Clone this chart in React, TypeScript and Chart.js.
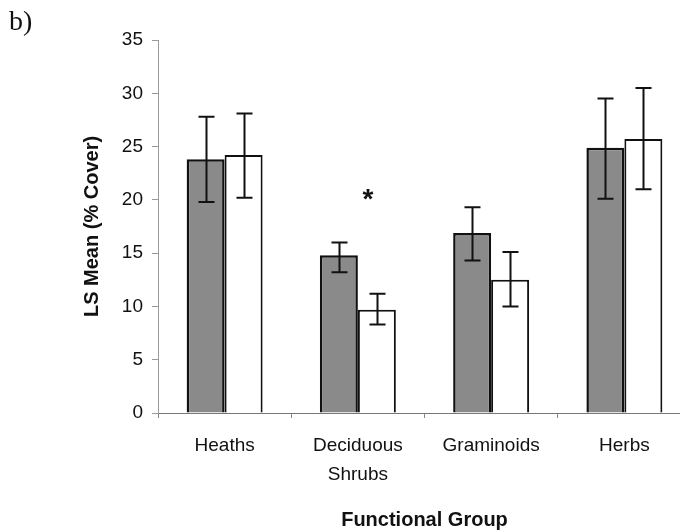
import React, { useEffect, useRef } from "react";
import { Chart, registerables } from "chart.js";

Chart.register(...registerables);

const categories: (string | string[])[] = ["Heaths", ["Deciduous", "Shrubs"], "Graminoids", "Herbs"];
const seriesNames = ["Series 1", "Series 2"];

const grayValues = [23.8, 14.8, 16.9, 24.9];
const grayLow = [19.8, 13.2, 14.3, 20.1];
const grayHigh = [27.8, 16.0, 19.3, 29.5];

const whiteValues = [24.2, 9.7, 12.5, 25.7];
const whiteLow = [20.2, 8.3, 10.0, 21.0];
const whiteHigh = [28.1, 11.2, 15.1, 30.5];

const markerLabels = ["", "*", "", ""];
const markerValue = 19.2;

const yMin = 0;
const yMax = 35;
const yStep = 5;

const panelLabel = "b)";
const yTitle = "LS Mean (% Cover)";
const xTitle = "Functional Group";

const lows = [grayLow, whiteLow];
const highs = [grayHigh, whiteHigh];

const errorBarPlugin = {
  id: "errorBars",
  afterDatasetsDraw(chart: any) {
    const { ctx } = chart;
    const yScale = chart.scales.y;
    ctx.save();
    ctx.strokeStyle = "#111";
    ctx.lineWidth = 2;
    chart.data.datasets.forEach((_ds: any, di: number) => {
      const meta = chart.getDatasetMeta(di);
      meta.data.forEach((bar: any, i: number) => {
        const x = Math.round(bar.x) + 0.5;
        const yH = yScale.getPixelForValue(highs[di][i]);
        const yL = yScale.getPixelForValue(lows[di][i]);
        const cap = 8;
        ctx.beginPath();
        ctx.moveTo(x, yH);
        ctx.lineTo(x, yL);
        ctx.moveTo(x - cap, yH);
        ctx.lineTo(x + cap, yH);
        ctx.moveTo(x - cap, yL);
        ctx.lineTo(x + cap, yL);
        ctx.stroke();
      });
    });
    // significance markers
    const xScale = chart.scales.x;
    ctx.fillStyle = "#111";
    ctx.font = "bold 28px 'Liberation Sans', Arial, sans-serif";
    ctx.textAlign = "center";
    ctx.textBaseline = "alphabetic";
    markerLabels.forEach((m, i) => {
      if (!m) return;
      ctx.fillText(m, xScale.getPixelForValue(i) + 10, yScale.getPixelForValue(markerValue));
    });
    // panel label
    ctx.textAlign = "left";
    ctx.font = "28px 'Liberation Serif', 'Times New Roman', serif";
    ctx.fillText(panelLabel, 9, 30);
    ctx.restore();
  },
};

export default function App() {
  const ref = useRef<HTMLCanvasElement>(null);
  useEffect(() => {
    if (!ref.current) return;
    const chart = new Chart(ref.current, {
      type: "bar",
      data: {
        labels: categories as any,
        datasets: [
          {
            label: seriesNames[0],
            data: grayValues,
            backgroundColor: "#8a8a8a",
            borderColor: "#111",
            borderWidth: 2.5,
            categoryPercentage: 0.57,
            barPercentage: 1.0,
          },
          {
            label: seriesNames[1],
            data: whiteValues,
            backgroundColor: "#ffffff",
            borderColor: "#111",
            borderWidth: 2,
            categoryPercentage: 0.57,
            barPercentage: 1.0,
          },
        ],
      },
      options: {
        responsive: false,
        animation: false,
        devicePixelRatio: 1,
        layout: { padding: { left: 0, top: 40, right: 9, bottom: 0 } },
        plugins: { legend: { display: false }, tooltip: { enabled: false } },
        scales: {
          x: {
            grid: { display: true, drawOnChartArea: false, drawTicks: true, tickLength: 5, color: "#888", offset: true },
            border: { display: true, color: "#777", width: 1 },
            ticks: {
              color: "#111",
              padding: 14,
              maxRotation: 0,
              autoSkip: false,
              font: { family: "'Liberation Sans', Arial, sans-serif", size: 19, lineHeight: 1.5 },
            },
            title: {
              display: true,
              text: xTitle,
              color: "#111",
              font: { family: "'Liberation Sans', Arial, sans-serif", size: 20, weight: "bold", lineHeight: 1.2 },
              padding: { top: 0, bottom: 0 },
            },
            afterFit: (s: any) => {
              s.height = 119;
            },
          },
          y: {
            min: yMin,
            max: yMax,
            grid: { display: true, drawOnChartArea: false, drawTicks: true, tickLength: 6, color: "#999" },
            border: { display: true, color: "#999", width: 1 },
            ticks: {
              stepSize: yStep,
              color: "#111",
              padding: 9,
              font: { family: "'Liberation Sans', Arial, sans-serif", size: 19 },
            },
            title: {
              display: true,
              text: yTitle,
              color: "#111",
              font: { family: "'Liberation Sans', Arial, sans-serif", size: 20, weight: "bold", lineHeight: 1.2 },
              padding: { top: 80, bottom: 0 },
            },
            afterFit: (s: any) => {
              s.width = 158;
            },
          },
        },
      },
      plugins: [errorBarPlugin],
    });
    return () => chart.destroy();
  }, []);
  return (
    <div style={{ position: "fixed", left: 0, top: 0, width: 680, height: 532, overflow: "hidden", background: "#fff" }}>
      <canvas ref={ref} width={700} height={532} style={{ display: "block", width: 700, height: 532 }} />
    </div>
  );
}
